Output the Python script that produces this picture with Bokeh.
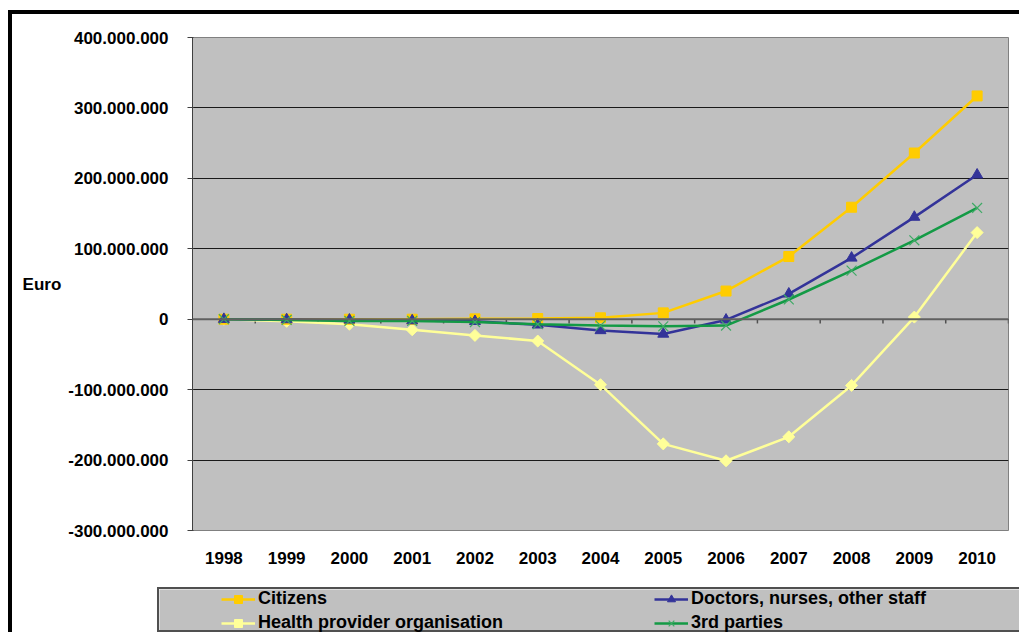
import math
from bokeh.plotting import figure
from bokeh.models import (FactorRange, Range1d, FixedTicker, Span, Legend,
                          LegendItem, ColumnDataSource)
from bokeh.transform import dodge
from bokeh.layouts import column
from bokeh.embed import file_html
from bokeh.resources import INLINE

years = ["1998", "1999", "2000", "2001", "2002", "2003", "2004",
         "2005", "2006", "2007", "2008", "2009", "2010"]
citizens = [0, 0, 0, 0, 0.5e6, 1e6, 2e6, 9e6, 40e6, 89e6, 159e6, 236e6, 317e6]
doctors = [0, -0.5e6, -1e6, -2e6, -3e6, -8e6, -16e6, -21e6, -1e6, 36e6, 87e6, 145e6, 205e6]
health = [0, -3e6, -7e6, -15e6, -23e6, -31e6, -93e6, -177e6, -201e6, -167e6, -94e6, 3e6, 123e6]
third = [0, -1e6, -2.5e6, -2.5e6, -4e6, -7e6, -9e6, -10e6, -9e6, 28e6, 69e6, 112e6, 158e6]

y_ticks = [-300e6, -200e6, -100e6, 0, 100e6, 200e6, 300e6, 400e6]
y_tick_labels = ["-300.000.000", "-200.000.000", "-100.000.000", "0",
                 "100.000.000", "200.000.000", "300.000.000", "400.000.000"]

series_names = ["Citizens", "Doctors, nurses, other staff",
                "Health provider organisation", "3rd parties"]

FONT = "Liberation Sans"
C_CIT = "#FFCC00"
C_DOC = "#333399"
C_HEA = "#FFFF99"
C_3RD = "#139A45"
C_3RD_M = "#3FAA66"
GRAY = "#C0C0C0"

src = ColumnDataSource(dict(year=years, citizens=citizens, doctors=doctors,
                            health=health, third=third))


def add_series(fig):
    rh1 = fig.line("year", "health", source=src, line_color=C_HEA, line_width=2.5)
    rh2 = fig.scatter("year", "health", source=src, marker="square", angle=math.pi / 4,
                      size=8.5, fill_color=C_HEA, line_color=C_HEA)
    rc1 = fig.line("year", "citizens", source=src, line_color=C_CIT, line_width=2.5)
    rc2 = fig.scatter("year", "citizens", source=src, marker="square", size=10,
                      fill_color=C_CIT, line_color=C_CIT)
    rd1 = fig.line("year", "doctors", source=src, line_color=C_DOC, line_width=2.5)
    rd2 = fig.scatter("year", "doctors", source=src, marker="triangle", size=11,
                      fill_color=C_DOC, line_color=C_DOC)
    rt1 = fig.line("year", "third", source=src, line_color=C_3RD, line_width=2.5)
    rt2 = fig.scatter("year", "third", source=src, marker="x", size=14,
                      line_color=C_3RD_M, line_width=1.2)
    return [[rc1, rc2], [rd1, rd2], [rh1, rh2], [rt1, rt2]]


p = figure(x_range=FactorRange(*years), y_range=Range1d(y_ticks[0], y_ticks[-1]),
           width=1005, height=573, output_backend="svg", toolbar_location=None,
           min_border_left=180, min_border_right=9, min_border_top=23,
           min_border_bottom=57, background_fill_color=GRAY,
           border_fill_color="white", outline_line_color="#808080",
           outline_line_width=1)
p.frame_align = False

p.xgrid.visible = False
p.ygrid.grid_line_color = "#1a1a1a"
p.ygrid.grid_line_width = 1
p.yaxis.ticker = FixedTicker(ticks=y_ticks)
p.yaxis.major_label_overrides = {t: l for t, l in zip(y_ticks, y_tick_labels)}
p.yaxis.minor_tick_line_color = None
p.yaxis.axis_line_color = "#404040"
p.yaxis.major_tick_line_color = "#404040"
p.yaxis.major_tick_out = 5
p.yaxis.major_tick_in = 1
p.yaxis.major_label_standoff = 19
p.yaxis.major_label_text_font = FONT
p.yaxis.major_label_text_font_style = "bold"
p.yaxis.major_label_text_font_size = "17px"
p.yaxis.major_label_text_color = "black"
p.yaxis.axis_label = "Euro"
p.yaxis.axis_label_orientation = "horizontal"
p.yaxis.axis_label_text_font = FONT
p.yaxis.axis_label_text_font_style = "bold"
p.yaxis.axis_label_text_font_size = "17px"
p.yaxis.axis_label_text_color = "black"
p.yaxis.axis_label_standoff = 4

p.xaxis.axis_line_color = None
p.xaxis.major_tick_line_color = None
p.xaxis.major_label_standoff = 15
p.xaxis.major_label_text_font = FONT
p.xaxis.major_label_text_font_style = "bold"
p.xaxis.major_label_text_font_size = "17px"
p.xaxis.major_label_text_color = "black"

# category axis drawn on the zero line
p.add_layout(Span(location=0, dimension="width", line_color="#606060", line_width=2))
p.segment(x0=dodge("year", 0.5, range=p.x_range), y0=0,
          x1=dodge("year", 0.5, range=p.x_range), y1=-6e6,
          source=src, line_color="#505050", line_width=1.5)

add_series(p)

# legend panel (same series, drawn out of view so only the legend shows)
pl = figure(x_range=FactorRange(*years), y_range=Range1d(1e10, 2e10),
            width=862, height=45, output_backend="svg", toolbar_location=None,
            x_axis_location=None, y_axis_location=None,
            min_border_left=0, min_border_right=0, min_border_top=0,
            min_border_bottom=0,
            background_fill_color=GRAY, border_fill_color=GRAY,
            outline_line_color=None)
pl.frame_align = False
pl.grid.visible = False
pl.margin = (0, 0, 0, 145)
pl.styles = {"border-left": "2px solid #505050", "border-top": "2px solid #505050",
             "border-bottom": "2px solid #505050"}

groups = add_series(pl)
items = [LegendItem(label=n, renderers=g) for n, g in zip(series_names, groups)]
leg = Legend(items=items, ncols=2, orientation="horizontal", location=(62, 1),
             padding=0, margin=0, spacing=3, glyph_width=34, glyph_height=20,
             label_height=20, label_width=393, label_standoff=3,
             border_line_alpha=0, background_fill_alpha=0,
             label_text_font=FONT, label_text_font_style="bold",
             label_text_font_size="18px", label_text_color="black")
pl.add_layout(leg)

layout = column(p, pl, spacing=0)
layout.margin = (10, 0, 0, 8)
layout.styles = {"border-left": "4px solid black", "border-top": "4px solid black"}

open("out.html", "w").write(file_html(layout, INLINE))
